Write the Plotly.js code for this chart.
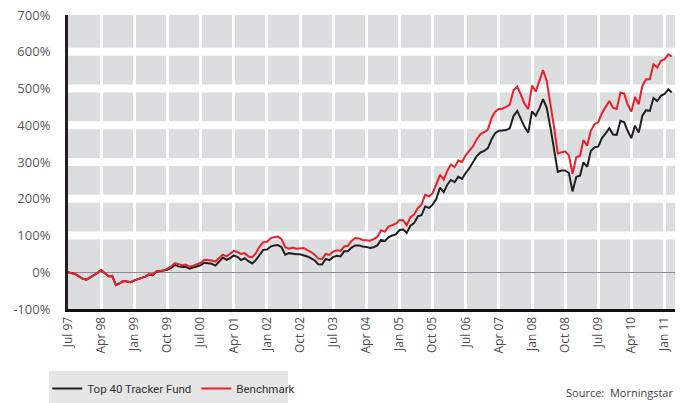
<!DOCTYPE html>
<html>
<head>
<meta charset="utf-8">
<script src="https://cdn.plot.ly/plotly-3.0.1.min.js"></script>
<style>
  html, body { margin: 0; padding: 0; background: #ffffff; }
  #chart { width: 685px; height: 403px; }
</style>
</head>
<body>
<div id="chart"></div>
<script>
// Monthly cumulative return (%), Jul 1997 - Mar 2011
const startYear = 1997;
const startMonth = 7;

const fundName = "Top 40 Tracker Fund";
const benchName = "Benchmark";

const fundValues = [
  0,-2,-5,-12,-18,-20,-14,-8,-2,6,
  -2,-11,-10,-35,-30,-24,-25,-27,-22,-19,
  -15,-12,-7,-8,1,3,3,7,12,20,
  16,14,15,10,13,16,19,26,24,23,
  18,30,40,34,38,46,42,33,38,30,
  24,33,48,61,62,70,73,74,68,48,
  52,50,49,49,47,43,38,32,22,21,
  36,33,41,45,43,57,57,67,73,73,
  70,69,66,68,73,88,85,95,100,103,
  115,116,107,127,134,152,155,179,175,184,
  200,230,218,239,251,245,260,254,270,283,
  300,316,326,330,338,362,378,385,386,387,
  392,425,439,417,395,380,438,426,445,471,
  448,394,330,273,277,277,270,220,260,263,
  299,287,330,340,342,365,378,392,375,374,
  412,408,385,365,399,380,426,441,439,474,
  466,480,485,498,489
];

const benchValues = [
  0,-2,-5,-12,-18,-20,-14,-8,-2,6,
  -2,-11,-10,-35,-30,-24,-25,-27,-22,-19,
  -15,-12,-5,-6,3,4,5,10,16,25,
  22,19,21,15,18,22,25,34,33,32,
  29,38,48,43,50,58,55,50,52,43,
  41,52,70,82,83,93,95,97,90,68,
  64,67,64,64,66,60,55,47,37,36,
  50,47,56,60,58,70,72,85,93,92,
  88,87,86,90,96,114,110,124,127,132,
  142,141,128,150,157,175,184,211,206,215,
  240,265,252,277,293,286,304,300,318,331,
  343,362,376,381,388,420,436,444,445,450,
  456,495,505,483,458,444,508,492,520,550,
  522,461,395,323,326,329,318,268,313,317,
  360,344,385,403,408,433,450,466,447,444,
  489,486,457,437,477,457,507,525,525,566,
  557,575,580,593,587
];

const tickDates = [
  "1997-07-01","1998-04-01","1999-01-01","1999-10-01","2000-07-01",
  "2001-04-01","2002-01-01","2002-10-01","2003-07-01","2004-04-01",
  "2005-01-01","2005-10-01","2006-07-01","2007-04-01","2008-01-01",
  "2008-10-01","2009-07-01","2010-04-01","2011-01-01"
];
const tickLabels = [
  "Jul 97","Apr 98","Jan 99","Oct 99","Jul 00",
  "Apr 01","Jan 02","Oct 02","Jul 03","Apr 04",
  "Jan 05","Oct 05","Jul 06","Apr 07","Jan 08",
  "Oct 08","Jul 09","Apr 10","Jan 11"
];

const yTickVals = [-100,0,100,200,300,400,500,600,700];
const yTickText = ["-100%","0%","100%","200%","300%","400%","500%","600%","700%"];

const sourceText = "Source:  Morningstar";

// month dates for the series
const dates = [];
for (let i = 0; i < benchValues.length; i++) {
  const t = (startMonth - 1) + i;
  const y = startYear + Math.floor(t / 12);
  const m = (t % 12) + 1;
  dates.push(y + "-" + String(m).padStart(2, "0") + "-01");
}

const traces = [
  {
    x: dates, y: fundValues, name: fundName, type: "scatter", mode: "lines",
    line: { color: "#231f20", width: 2 }
  },
  {
    x: dates, y: benchValues, name: benchName, type: "scatter", mode: "lines",
    line: { color: "#e8222b", width: 2 }
  }
];

// white horizontal bands at inner gridlines
const shapes = yTickVals
  .filter(v => v !== 0 && v !== yTickVals[0] && v !== yTickVals[yTickVals.length - 1])
  .map(v => ({
    type: "line", xref: "paper", yref: "y", x0: 0, x1: 1, y0: v, y1: v,
    line: { color: "#ffffff", width: 8 }, layer: "below"
  }));

// legend background
const legendBox = {
  type: "rect", xref: "paper", yref: "paper",
  x0: -0.0313, x1: 0.3624, y0: -0.3197, y1: -0.2109,
  fillcolor: "#e6e6e7", line: { width: 0 }, layer: "below"
};
shapes.push(legendBox);

const layout = {
  width: 685, height: 403,
  margin: { l: 68, r: 10, t: 15, b: 94, autoexpand: false },
  paper_bgcolor: "#ffffff",
  plot_bgcolor: "#dcdddf",
  showlegend: true,
  legend: {
    orientation: "h",
    xref: "container", yref: "container",
    x: 0.069, xanchor: "left",
    y: 0.036, yanchor: "middle",
    bgcolor: "rgba(0,0,0,0)",
    font: { family: "Roboto, 'Open Sans', sans-serif", size: 11.5, color: "#333333" },
    traceorder: "normal"
  },
  xaxis: {
    type: "date",
    range: ["1997-07-01", "2011-03-28"],
    tickmode: "array",
    tickvals: tickDates,
    ticktext: tickLabels,
    tickangle: -90,
    tickfont: { family: "'Open Sans', sans-serif", size: 12, color: "#4d4d4f" },
    showgrid: true, gridcolor: "#ffffff", gridwidth: 3,
    showline: true, linecolor: "#111111", linewidth: 3,
    zeroline: false, ticks: "",
    automargin: false,
    fixedrange: true
  },
  yaxis: {
    range: [-100, 700],
    tickmode: "array",
    tickvals: yTickVals,
    ticktext: yTickText,
    tickfont: { family: "'Open Sans', sans-serif", size: 13, color: "#58595b" },
    showgrid: false,
    showline: true, linecolor: "#231f20", linewidth: 3,
    zeroline: true, zerolinecolor: "#8c8c8c", zerolinewidth: 1.5,
    ticks: "", ticklabelstandoff: 12,
    automargin: false,
    fixedrange: true
  },
  shapes: shapes,
  annotations: [{
    text: sourceText, xref: "paper", yref: "paper",
    x: 1, y: -0.285, xanchor: "right", yanchor: "middle",
    showarrow: false,
    font: { family: "'Open Sans', sans-serif", size: 11, color: "#444444" }
  }]
};

Plotly.newPlot("chart", traces, layout, { displayModeBar: false, staticPlot: true });
</script>
</body>
</html>
